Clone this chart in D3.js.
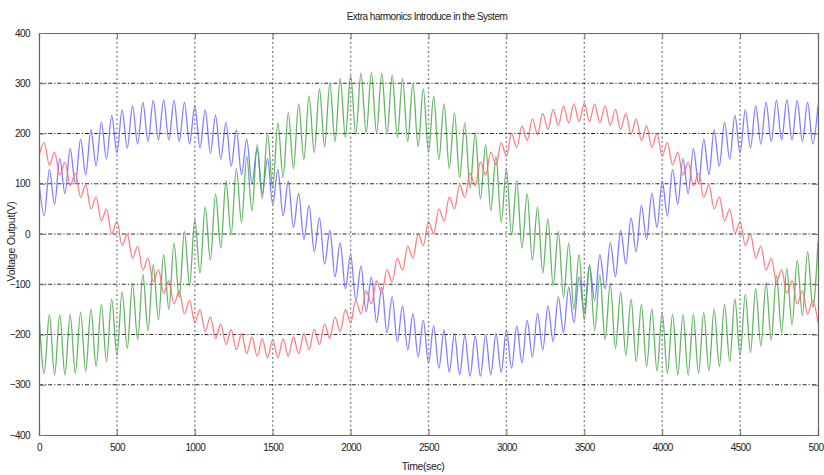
<!DOCTYPE html>
<html>
<head>
<meta charset="utf-8">
<script src="https://cdn.jsdelivr.net/npm/d3@7/dist/d3.min.js"></script>
<style>
  html, body { margin: 0; padding: 0; background: #fff; }
  svg { display: block; }
  text { font-family: "Liberation Sans", Arial, sans-serif; fill: #222; }
</style>
</head>
<body>
<svg id="chart" width="824" height="475"></svg>
<script>
// ---- data ----
const title = "Extra harmonics Introduce in the System";
const xLabel = "Time(sec)";
const yLabel = "Voltage Output(V)";
const xTicks = [0, 500, 1000, 1500, 2000, 2500, 3000, 3500, 4000, 4500, 5000];
const yTicks = [-400, -300, -200, -100, 0, 100, 200, 300, 400];
const tStart = 0, tEnd = 5000;   // sampled uniformly between these

// phase A (blue) – successive ripple extremes
const phaseA = [105,36,128,59,150,80,170,100,189,118,207,135,222,149,236,161,247,171,255,179,
262,184,266,187,267,187,266,184,262,179,255,171,247,161,236,149,222,135,207,118,
189,100,170,80,150,59,128,36,105,13,81,-11,57,-36,32,-60,7,-85,-17,-109,
-41,-132,-64,-155,-86,-176,-106,-196,-125,-214,-143,-231,-158,-245,-172,-257,-183,-267,-191,-275,
-198,-280,-202,-283,-203,-283,-202,-280,-198,-275,-191,-267,-183,-257,-172,-245,-158,-231,-143,-214,
-125,-196,-106,-176,-86,-155,-64,-132,-41,-109,-17,-85,7,-60,32,-36,57,-11,81,13,
105,36,128,59,150,80,170,100,189,118,207,135,222,149,236,161,247,171,255,179,
262,184,266,187,267,187,266,184,262,179,255];

// phase B (red)
const phaseB = [155,182,137,163,117,143,96,121,73,98,50,74,26,50,1,25,-23,0,-48,-24,
-72,-48,-95,-71,-118,-93,-139,-113,-159,-132,-177,-150,-194,-165,-208,-179,-220,-190,-230,-198,
-238,-205,-243,-209,-246,-210,-246,-209,-243,-205,-238,-198,-230,-190,-220,-179,-208,-165,-194,-150,
-177,-132,-159,-113,-139,-93,-118,-71,-95,-48,-72,-24,-48,0,-23,25,1,50,26,74,
50,98,73,121,96,143,117,163,137,182,155,200,172,215,186,229,198,240,208,248,
216,255,221,259,224,260,224,259,221,255,216,248,208,240,198,229,186,215,172,200,
155,182,137,163,117,143,96,121,73,98,50,74,26,50,1,25,-23,0,-48,-24,
-72,-48,-95,-71,-118,-93,-139,-113,-159,-132,-177];

// phase C (green)
const phaseC = [-156,-278,-160,-281,-161,-281,-160,-278,-156,-273,-149,-264,-140,-254,-129,-242,-115,-228,-99,-210,
-81,-192,-61,-171,-41,-150,-18,-126,5,-103,30,-78,54,-52,80,-28,106,-2,130,23,
155,46,178,70,201,91,221,112,241,130,259,148,275,162,289,174,300,184,309,193,
316,198,320,201,321,201,320,198,316,193,309,184,300,174,289,162,275,148,259,130,
241,112,221,91,201,70,178,46,155,23,130,-2,106,-28,80,-52,54,-78,30,-103,
5,-126,-18,-150,-41,-171,-61,-192,-81,-210,-99,-228,-115,-242,-129,-254,-140,-264,-149,-273,
-156,-278,-160,-281,-161,-281,-160,-278,-156,-273,-149,-264,-140,-254,-129,-242,-120,-236,-109,-223,
-97,-211,-83,-196,-69,-181,-52,-163,-35,-146,-16];

// ---- chart ----
const W = 824, H = 475;
const m = { left: 39, right: 6, top: 33, bottom: 40 };
const svg = d3.select("#chart");
const x = d3.scaleLinear().domain([tStart, tEnd]).range([m.left, W - m.right]);
const y = d3.scaleLinear().domain([-400, 400]).range([H - m.bottom, m.top]);

const series = [
  { values: phaseA, color: "#6a6aff" },
  { values: phaseC, color: "#4aa84a" },
  { values: phaseB, color: "#ff6a6a" }
];

// grid
const g = svg.append("g");
g.selectAll(".vg").data(xTicks.slice(1, -1)).join("line")
  .attr("x1", d => x(d)).attr("x2", d => x(d))
  .attr("y1", y(400)).attr("y2", y(-400))
  .attr("stroke", "#8a8a8a").attr("stroke-width", 1.4)
  .attr("stroke-dasharray", "2,2.5");
g.selectAll(".hg").data(yTicks.slice(1, -1)).join("line")
  .attr("x1", x(0)).attr("x2", x(5000))
  .attr("y1", d => y(d)).attr("y2", d => y(d))
  .attr("stroke", "#111").attr("stroke-width", 0.9)
  .attr("stroke-dasharray", "4,2,1.2,2");

// clip
svg.append("clipPath").attr("id", "clip").append("rect")
  .attr("x", x(0)).attr("y", y(400)).attr("width", x(5000) - x(0)).attr("height", y(-400) - y(400));

const line = d3.line()
  .x((d, i, arr) => x(tStart + i * (tEnd - tStart) / (arr.length - 1)))
  .y(d => y(d))
  .curve(d3.curveMonotoneX);

const lg = svg.append("g").attr("clip-path", "url(#clip)");
series.forEach(s => {
  lg.append("path")
    .attr("d", line(s.values))
    .attr("fill", "none")
    .attr("stroke", s.color)
    .attr("stroke-width", 1.3)
    .attr("stroke-opacity", 0.85);
});

// axes
const xAxisB = d3.axisBottom(x).tickValues(xTicks).tickSize(-6).tickPadding(9).tickFormat(d3.format("d"));
const xAxisT = d3.axisTop(x).tickValues(xTicks).tickSize(-6).tickFormat("");
const yAxisL = d3.axisLeft(y).tickValues(yTicks).tickSize(-6).tickPadding(9).tickFormat(d3.format("d"));
const yAxisR = d3.axisRight(y).tickValues(yTicks).tickSize(-6).tickFormat("");

function styleAxis(sel) {
  sel.select(".domain").attr("stroke", "#666").attr("stroke-width", 1.2);
  sel.selectAll(".tick line").attr("stroke", "#777").attr("stroke-width", 1);
  sel.selectAll(".tick text").attr("font-size", "10px")
    .attr("font-family", "Liberation Sans, Arial, sans-serif").attr("fill", "#222")
    .attr("letter-spacing", "-0.6px");
}
svg.append("g").attr("transform", `translate(0,${y(-400)})`).call(xAxisB).call(styleAxis);
svg.append("g").attr("transform", `translate(0,${y(400)})`).call(xAxisT).call(styleAxis);
svg.append("g").attr("transform", `translate(${x(0)},0)`).call(yAxisL).call(styleAxis);
svg.append("g").attr("transform", `translate(${x(5000)},0)`).call(yAxisR).call(styleAxis);

// labels
svg.append("text").attr("x", 427).attr("y", 20).attr("text-anchor", "middle")
  .attr("font-size", "10px").attr("letter-spacing", "-0.5px").text(title);
svg.append("text").attr("x", 423).attr("y", 470).attr("text-anchor", "middle")
  .attr("font-size", "10.5px").attr("letter-spacing", "-0.4px").text(xLabel);
svg.append("text").attr("transform", `translate(15,${y(-15)}) rotate(-90)`).attr("text-anchor", "middle")
  .attr("font-size", "10.5px").attr("letter-spacing", "-0.2px").text(yLabel);
</script>
</body>
</html>
